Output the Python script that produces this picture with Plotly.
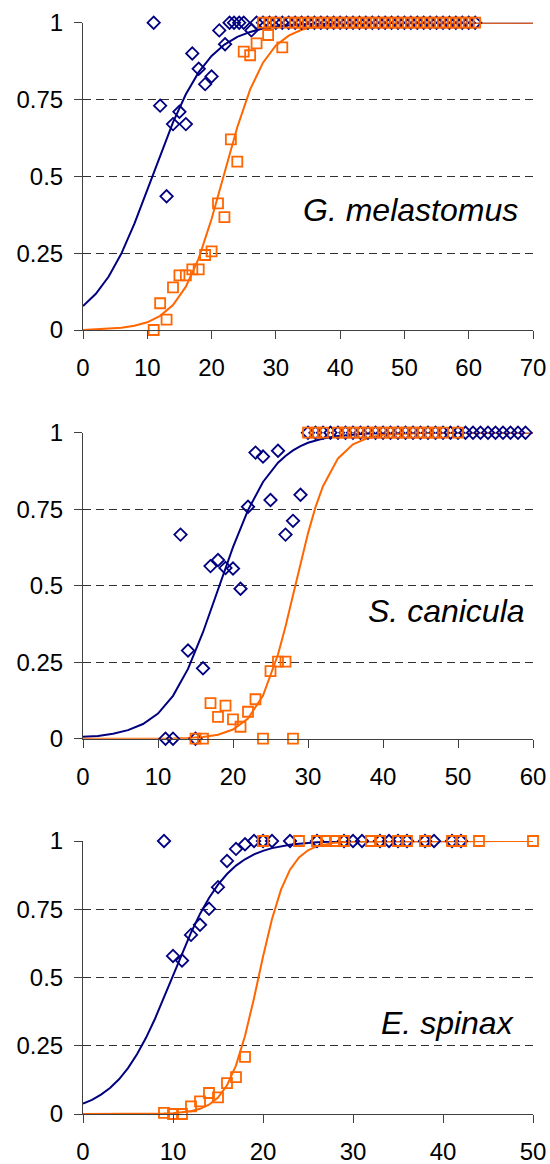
import plotly.graph_objects as go

NAVY = "#000080"
ORANGE = "#FF6600"

# ---------------- Panel 1: G. melastomus ----------------
g_blue_x = [11, 12, 13, 14, 15, 16, 17, 18, 19, 20, 21.2, 22.1, 22.8, 23.5, 24.3, 25, 26.2] + list(range(27, 62))
g_blue_y = [1.0, 0.73, 0.435, 0.67, 0.71, 0.67, 0.9, 0.85, 0.80, 0.825, 0.975, 0.93, 1, 1, 1, 1, 0.975] + [1.0] * 35
g_or_x = [11, 12, 13, 14, 15, 16, 17, 18, 19, 20, 21, 22, 23, 24, 25, 26, 27, 28.8, 31] + [28, 29, 30] + list(range(32, 62))
g_or_y = [0.0, 0.087, 0.034, 0.139, 0.178, 0.178, 0.197, 0.197, 0.244, 0.256, 0.412, 0.367, 0.62, 0.548,
          0.906, 0.894, 0.933, 0.96, 0.92] + [1.0] * 33
g_fit_x = [0, 2, 4, 6, 8, 10, 12, 14, 16, 18, 20, 22, 24, 26, 28, 30, 32, 34, 36, 40, 45, 70]
g_fit_blue = [0.078, 0.118, 0.174, 0.250, 0.346, 0.455, 0.569, 0.676, 0.767, 0.839, 0.892, 0.929, 0.954,
              0.970, 0.981, 0.988, 0.992, 0.995, 0.997, 0.999, 1.0, 1.0]
g_fit_or = [0.0, 0.002, 0.004, 0.007, 0.014, 0.025, 0.046, 0.081, 0.141, 0.233, 0.361, 0.512, 0.660,
            0.783, 0.870, 0.926, 0.958, 0.977, 0.987, 0.996, 0.999, 1.0]

# ---------------- Panel 2: S. canicula ----------------
s_blue_x = [11, 12, 13, 14, 15, 16, 17, 18, 19, 20, 21, 22, 23, 24, 25, 26, 27, 28, 29] + list(range(30, 60))
s_blue_y = [0, 0, 0.667, 0.288, 0, 0.23, 0.564, 0.584, 0.558, 0.556, 0.49, 0.758, 0.935, 0.922, 0.78,
            0.941, 0.667, 0.712, 0.797] + [1.0] * 30
s_or_x = [15, 16, 17, 18, 19, 20, 21, 22, 23, 24, 25, 26, 27, 28] + [30, 31, 32, 34, 35, 36, 37, 38, 39, 40,
                                                                     41, 42, 43, 44, 45, 46, 47, 48, 50]
s_or_y = [0, 0, 0.116, 0.071, 0.108, 0.063, 0.039, 0.088, 0.129, 0, 0.221, 0.252, 0.252, 0] + [1.0] * 19
s_fit_x = [0, 2, 4, 6, 8, 10, 12, 14, 16, 18, 20, 22, 24, 26, 27, 28, 29, 30, 31, 32, 34, 36, 38, 40, 45, 60]
s_fit_blue = [0.006, 0.009, 0.016, 0.028, 0.048, 0.082, 0.140, 0.228, 0.348, 0.486, 0.626, 0.747, 0.839,
              0.902, 0.924, 0.942, 0.956, 0.967, 0.975, 0.981, 0.989, 0.994, 0.997, 0.998, 1.0, 1.0]
s_fit_or = [0.0, 0.0, 0.0, 0.0, 0.0, 0.0005, 0.001, 0.0025, 0.0057, 0.013, 0.030, 0.066, 0.141, 0.275,
            0.367, 0.469, 0.573, 0.671, 0.757, 0.825, 0.916, 0.962, 0.983, 0.993, 0.999, 1.0]

# ---------------- Panel 3: E. spinax ----------------
e_blue_x = [9, 10, 11, 12, 13, 14, 15, 16, 17, 18, 19, 20, 21, 23, 26, 29, 30, 31, 33, 34, 35, 36, 38, 39, 41, 42]
e_blue_y = [1.0, 0.579, 0.562, 0.656, 0.693, 0.752, 0.831, 0.927, 0.971, 0.988] + [1.0] * 16
e_or_x = [9, 10, 11, 12, 13, 14, 15, 16, 17, 18] + [20, 24, 26, 27, 28, 29, 32, 33, 35, 36, 38, 41, 42, 44, 50]
e_or_y = [0.004, 0, 0, 0.028, 0.046, 0.077, 0.061, 0.113, 0.135, 0.209] + [1.0] * 15
e_fit_x = [0, 1, 2, 3, 4, 5, 6, 7, 8, 9, 10, 11, 12, 13, 14, 15, 16, 17, 18, 19, 20, 21, 22, 23, 24, 25, 26,
           28, 30, 50]
e_fit_blue = [0.038, 0.052, 0.071, 0.095, 0.127, 0.168, 0.219, 0.279, 0.349, 0.427, 0.507, 0.588, 0.664,
              0.733, 0.791, 0.840, 0.879, 0.910, 0.933, 0.951, 0.964, 0.974, 0.981, 0.986, 0.990, 0.993,
              0.995, 0.998, 0.999, 1.0]
e_fit_or = [0, 0, 0, 0, 0, 0, 0, 0, 0.001, 0.002, 0.003, 0.0055, 0.010, 0.019, 0.034, 0.060, 0.105, 0.178,
            0.286, 0.424, 0.576, 0.714, 0.822, 0.895, 0.940, 0.966, 0.981, 0.994, 0.998, 1.0]

species = ["G. melastomus", "S. canicula", "E. spinax"]
x_max = [70, 60, 50]
y_ticks = [0, 0.25, 0.5, 0.75, 1]
y_tick_text = ["0", "0.25", "0.5", "0.75", "1"]

panels = [
    (g_blue_x, g_blue_y, g_or_x, g_or_y, g_fit_x, g_fit_blue, g_fit_or),
    (s_blue_x, s_blue_y, s_or_x, s_or_y, s_fit_x, s_fit_blue, s_fit_or),
    (e_blue_x, e_blue_y, e_or_x, e_or_y, e_fit_x, e_fit_blue, e_fit_or),
]

W, H = 550, 1164
ML, MR, MT, MB = 83, 17, 22, 50
PH = H - MT - MB
PW = W - ML - MR
# panel pixel boxes (top px, bottom px)
boxes = [(22.7, 330.0), (432.7, 738.7), (841.0, 1114.0)]
label_pos = [(520, 210), (527, 611), (516, 1023)]

fig = go.Figure()
FONT = "Arial, Liberation Sans, sans-serif"

for i, (bx, by, ox, oy, fx, fb, fo) in enumerate(panels):
    xa = "x" if i == 0 else f"x{i+1}"
    ya = "y" if i == 0 else f"y{i+1}"
    fig.add_trace(go.Scatter(x=fx, y=fb, mode="lines", line=dict(color=NAVY, width=2),
                             xaxis=xa, yaxis=ya, showlegend=False, cliponaxis=False))
    fig.add_trace(go.Scatter(x=fx, y=fo, mode="lines", line=dict(color=ORANGE, width=2),
                             xaxis=xa, yaxis=ya, showlegend=False, cliponaxis=False))
    fig.add_trace(go.Scatter(x=bx, y=by, mode="markers",
                             marker=dict(symbol="diamond-open", size=9.5, color=NAVY, line=dict(width=1.8, color=NAVY)),
                             xaxis=xa, yaxis=ya, showlegend=False, cliponaxis=False))
    fig.add_trace(go.Scatter(x=ox, y=oy, mode="markers",
                             marker=dict(symbol="square-open", size=10, color=ORANGE, line=dict(width=1.8, color=ORANGE)),
                             xaxis=xa, yaxis=ya, showlegend=False, cliponaxis=False))

    top, bot = boxes[i]
    dom = [(MT + PH - bot) / PH, (MT + PH - top) / PH]
    dom = [max(0, dom[0]), min(1, dom[1])]
    xkey = "xaxis" if i == 0 else f"xaxis{i+1}"
    ykey = "yaxis" if i == 0 else f"yaxis{i+1}"
    fig.update_layout(**{
        xkey: dict(domain=[0, 1], range=[0, x_max[i]], anchor=ya, dtick=10, tick0=0, automargin=False,
                   showgrid=False, zeroline=False, showline=True, linecolor="#404040", linewidth=1,
                   ticks="outside", ticklen=8, tickcolor="#404040", tickwidth=1,
                   tickfont=dict(family=FONT, size=24, color="black"), ticklabelstandoff=8),
        ykey: dict(domain=dom, range=[0, 1], anchor=xa, tickvals=y_ticks, ticktext=y_tick_text, automargin=False,
                   showgrid=True, gridcolor="#303030", gridwidth=1, griddash="8px,5px",
                   zeroline=False, showline=True, linecolor="#404040", linewidth=1,
                   ticks="outside", ticklen=8, tickcolor="#404040", tickwidth=1,
                   tickfont=dict(family=FONT, size=24, color="black"), ticklabelstandoff=6),
    })
    lx, ly = label_pos[i]
    fig.add_annotation(text=f"<i>{species[i]}</i>", xref="paper", yref="paper",
                       x=(lx - ML) / PW, y=(MT + PH - ly) / PH, xanchor="right", yanchor="middle",
                       showarrow=False, font=dict(family=FONT, size=32, color="black"))

fig.update_layout(width=W, height=H, margin=dict(l=ML, r=MR, t=MT, b=MB, autoexpand=False),
                  plot_bgcolor="white", paper_bgcolor="white", showlegend=False)

fig.write_html("out.html")
